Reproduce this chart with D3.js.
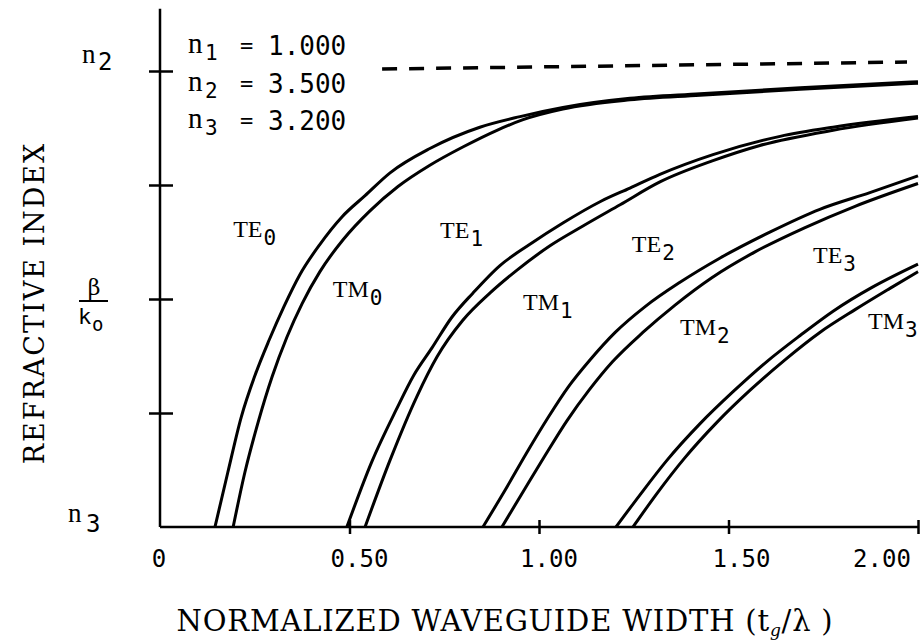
<!DOCTYPE html>
<html>
<head>
<meta charset="utf-8">
<script src="https://cdn.jsdelivr.net/npm/d3@7"></script>
<style>
  body { margin: 0; background: #fff; }
  svg { display: block; }
</style>
</head>
<body>
<div class="canvas"></div>
<script>
// refractive index vs normalized width
// TE / TM mode curves, x = t_g/lambda, y = beta/k0
const te0X = [0.145, 0.179, 0.214, 0.251, 0.288, 0.327, 0.369, 0.422, 0.480, 0.541, 0.607, 0.712, 0.844, 0.950, 1.063, 1.240, 1.425, 1.689, 2.000];
const te0Y = [3.200, 3.236, 3.272, 3.300, 3.323, 3.345, 3.366, 3.386, 3.404, 3.418, 3.433, 3.449, 3.463, 3.470, 3.476, 3.482, 3.485, 3.489, 3.493];
const tm0X = [0.193, 0.224, 0.259, 0.296, 0.335, 0.375, 0.422, 0.483, 0.554, 0.628, 0.712, 0.799, 0.889, 0.958, 1.063, 1.240, 1.425, 1.689, 2.000];
const tm0Y = [3.200, 3.236, 3.269, 3.299, 3.325, 3.347, 3.368, 3.389, 3.408, 3.424, 3.438, 3.450, 3.461, 3.468, 3.475, 3.481, 3.484, 3.488, 3.492];

const te1X = [0.493, 0.559, 0.623, 0.670, 0.718, 0.770, 0.826, 0.897, 0.976, 1.063, 1.161, 1.240, 1.319, 1.459, 1.636, 1.776, 2.000];
const te1Y = [3.200, 3.243, 3.277, 3.300, 3.318, 3.338, 3.354, 3.372, 3.386, 3.400, 3.414, 3.423, 3.432, 3.445, 3.457, 3.463, 3.470];
const tm1X = [0.541, 0.607, 0.678, 0.731, 0.799, 0.871, 0.942, 1.029, 1.116, 1.214, 1.319, 1.459, 1.583, 1.776, 2.000];
const tm1Y = [3.200, 3.244, 3.286, 3.312, 3.336, 3.354, 3.369, 3.385, 3.398, 3.412, 3.427, 3.441, 3.451, 3.461, 3.469];

const te2X = [0.852, 0.910, 0.968, 1.024, 1.077, 1.135, 1.201, 1.280, 1.372, 1.478, 1.609, 1.741, 1.873, 2.000];
const te2Y = [3.200, 3.224, 3.249, 3.272, 3.292, 3.310, 3.328, 3.345, 3.361, 3.377, 3.394, 3.409, 3.420, 3.431];
const tm2X = [0.902, 0.960, 1.016, 1.074, 1.132, 1.195, 1.274, 1.359, 1.456, 1.570, 1.702, 1.834, 2.000];
const tm2Y = [3.200, 3.224, 3.247, 3.270, 3.290, 3.309, 3.328, 3.346, 3.364, 3.381, 3.397, 3.411, 3.426];

const te3X = [1.203, 1.266, 1.338, 1.425, 1.512, 1.602, 1.689, 1.776, 1.881, 2.000];
const te3Y = [3.200, 3.221, 3.244, 3.268, 3.289, 3.309, 3.326, 3.342, 3.358, 3.373];
const tm3X = [1.248, 1.311, 1.383, 1.470, 1.557, 1.649, 1.741, 1.834, 1.926, 2.000];
const tm3Y = [3.200, 3.222, 3.245, 3.269, 3.290, 3.310, 3.328, 3.343, 3.357, 3.368];

// n2 asymptote (dashed), as drawn
const asymX = [0.586, 1.971];
const asymY = [3.5013, 3.5059];

// mode labels and where they sit (data units)
const modeNames = ['TE', 'TM', 'TE', 'TM', 'TE', 'TM', 'TE', 'TM'];
const modeSubs = ['0', '0', '1', '1', '2', '2', '3', '3'];
const labelX = [0.193, 0.456, 0.739, 0.958, 1.245, 1.372, 1.723, 1.868];
const labelY = [3.391, 3.351, 3.390, 3.343, 3.381, 3.326, 3.374, 3.330];

// index values box
const nNames = ['1', '2', '3'];
const nValues = ['1.000', '3.500', '3.200'];

// axis ticks
const xTicks = [0, 0.5, 1.0, 1.5, 2.0];
const xTickLabels = ['0', '0.50', '1.00', '1.50', '2.00'];
const yTicks = [3.275, 3.35, 3.425, 3.5];

const width = 921, height = 642;

const svg = d3.select('.canvas')
    .append('svg')
    .attr('width', width)
    .attr('height', height);

const x = d3.scaleLinear().domain([0, 2.0]).range([160, 918]);
const y = d3.scaleLinear().domain([3.2, 3.5]).range([527, 71]);

const tw = '"Liberation Serif", "Times New Roman", serif';
const sansMono = '"DejaVu Sans Mono", monospace';
const serif = '"DejaVu Serif", "Liberation Serif", serif';

// axes
const xAxis = d3.axisBottom(x)
    .tickValues(xTicks.slice(1))
    .tickFormat('')
    .tickSizeOuter(0);
const xAxisGroup = svg.append('g')
    .attr('transform', `translate(0, ${y(3.2)})`)
    .call(xAxis);
xAxisGroup.select('.domain').remove();
xAxisGroup.selectAll('.tick line')
    .attr('y1', -7).attr('y2', 7)
    .attr('stroke', '#000').attr('stroke-width', 2.5);

const yAxis = d3.axisLeft(y)
    .tickValues(yTicks)
    .tickFormat('')
    .tickSizeOuter(0);
const yAxisGroup = svg.append('g')
    .attr('transform', `translate(${x(0)}, 0)`)
    .call(yAxis);
yAxisGroup.select('.domain').remove();
yAxisGroup.selectAll('.tick line')
    .attr('x1', -11).attr('x2', 13)
    .attr('stroke', '#000').attr('stroke-width', 2.5);

// axis lines
svg.append('line')
    .attr('x1', x(0)).attr('x2', x(2.0))
    .attr('y1', y(3.2)).attr('y2', y(3.2))
    .attr('stroke', '#000').attr('stroke-width', 2.5);
svg.append('line')
    .attr('x1', x(0)).attr('x2', x(0))
    .attr('y1', y(3.2)).attr('y2', y(3.541))
    .attr('stroke', '#000').attr('stroke-width', 2.5);

// x tick labels (as placed in the original, slightly off the ticks)
const xLabelShift = [-1, 10, 10, 13, -36];
svg.selectAll('.xlab')
    .data(xTicks)
    .enter()
    .append('text')
    .attr('x', (d, i) => x(d) + xLabelShift[i])
    .attr('y', 567)
    .attr('text-anchor', 'middle')
    .attr('font-family', sansMono)
    .attr('font-size', 24)
    .text((d, i) => xTickLabels[i]);

// y tick labels: n2, beta/k0, n3
const nLab = svg.append('g').attr('fill', '#000');
nLab.append('text').attr('x', 82).attr('y', y(3.5) - 8).attr('font-family', tw).attr('font-size', 27).text('n');
nLab.append('text').attr('x', 98).attr('y', y(3.5) - 1).attr('font-size', 24).attr('font-family', sansMono).text('2');
nLab.append('text').attr('x', 68).attr('y', y(3.2) - 5).attr('font-family', tw).attr('font-size', 27).text('n');
nLab.append('text').attr('x', 86).attr('y', y(3.2) + 5).attr('font-size', 24).attr('font-family', sansMono).text('3');

const frac = svg.append('g').attr('fill', '#000');
frac.append('text').attr('x', 94).attr('y', y(3.35) - 4)
    .attr('text-anchor', 'middle').attr('font-family', serif).attr('font-size', 22).text('β');
frac.append('line').attr('x1', 79).attr('x2', 108)
    .attr('y1', y(3.35) + 2).attr('y2', y(3.35) + 2)
    .attr('stroke', '#000').attr('stroke-width', 2);
frac.append('text').attr('x', 78).attr('y', y(3.35) + 25)
    .attr('font-family', sansMono).attr('font-size', 22).text('k');
frac.append('text').attr('x', 92).attr('y', y(3.35) + 32)
    .attr('font-family', sansMono).attr('font-size', 19).text('o');

// dashed n2 asymptote
svg.append('path')
    .attr('d', d3.line().x(d => x(d[0])).y(d => y(d[1]))(d3.zip(asymX, asymY)))
    .attr('fill', 'none')
    .attr('stroke', '#000')
    .attr('stroke-width', 3.5)
    .attr('stroke-dasharray', '15 12');

// mode curves
const line = d3.line()
    .x(d => x(d[0]))
    .y(d => y(d[1]))
    .curve(d3.curveMonotoneX);

const curves = [
    [te0X, te0Y], [tm0X, tm0Y],
    [te1X, te1Y], [tm1X, tm1Y],
    [te2X, te2Y], [tm2X, tm2Y],
    [te3X, te3Y], [tm3X, tm3Y]
];

svg.selectAll('.mode')
    .data(curves)
    .enter()
    .append('path')
    .attr('class', 'mode')
    .attr('d', d => line(d3.zip(d[0], d[1])))
    .attr('fill', 'none')
    .attr('stroke', '#000')
    .attr('stroke-width', 3)
    .attr('stroke-linejoin', 'round');

// mode labels
const labs = svg.selectAll('.modelab')
    .data(modeNames)
    .enter()
    .append('text')
    .attr('class', 'modelab')
    .attr('x', (d, i) => x(labelX[i]))
    .attr('y', (d, i) => y(labelY[i]))
    .attr('font-family', tw)
    .attr('font-size', 24)
    .attr('fill', '#000');
labs.append('tspan').text(d => d);
labs.append('tspan')
    .attr('dy', 8)
    .attr('dx', 1)
    .attr('font-family', sansMono)
    .attr('font-size', 21)
    .text((d, i) => modeSubs[i]);

// index values box
const box = svg.append('g').attr('fill', '#000');
const rowY = [55, 93, 130];
nNames.forEach((n, i) => {
    box.append('text').attr('x', 188).attr('y', rowY[i] - 2)
        .attr('font-family', tw).attr('font-size', 29).text('n');
    box.append('text').attr('x', 205).attr('y', rowY[i] + 5)
        .attr('font-family', sansMono).attr('font-size', 21).text(n);
    box.append('text').attr('x', 240).attr('y', rowY[i] - 2)
        .attr('font-family', sansMono).attr('font-size', 22).text('=');
    box.append('text').attr('x', 268).attr('y', rowY[i])
        .attr('font-family', sansMono).attr('font-size', 26).text(nValues[i]);
});

// axis titles
const xTitle = svg.append('text')
    .attr('x', 505)
    .attr('y', 631)
    .attr('text-anchor', 'middle')
    .attr('font-family', serif)
    .attr('font-size', 29)
    .attr('letter-spacing', 0.8)
    .attr('fill', '#000');
xTitle.append('tspan').text('NORMALIZED WAVEGUIDE WIDTH (t');
xTitle.append('tspan').attr('dy', 5).attr('font-size', 17).attr('font-style', 'italic').text('g');
xTitle.append('tspan').attr('dy', -5).text('/λ )');

svg.append('text')
    .attr('transform', 'translate(44, 303) rotate(-90)')
    .attr('text-anchor', 'middle')
    .attr('font-family', serif)
    .attr('font-size', 27)
    .attr('letter-spacing', 2)
    .attr('fill', '#000')
    .text('REFRACTIVE INDEX');
</script>
</body>
</html>
